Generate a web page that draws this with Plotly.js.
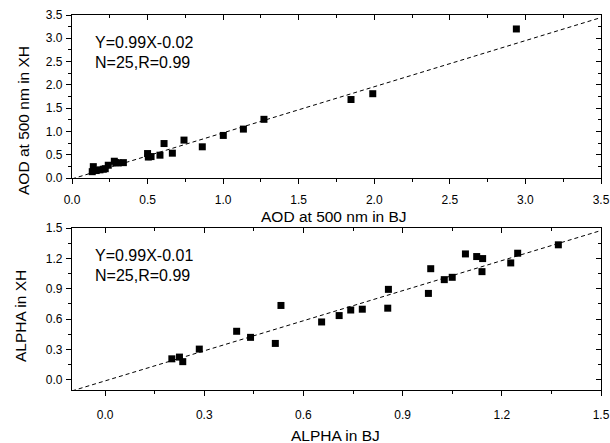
<!DOCTYPE html>
<html>
<head>
<meta charset="utf-8">
<script src="https://cdn.plot.ly/plotly-3.0.1.min.js"></script>
<style>html,body{margin:0;padding:0;background:#fff}#chart{width:610px;height:443px}</style>
</head>
<body>
<div id="chart"></div>
<script>
// Top panel: AOD at 500 nm
const aodBJ = [0.134, 0.141, 0.160, 0.185, 0.207, 0.220, 0.240, 0.280, 0.290, 0.306, 0.340, 0.500, 0.505, 0.523, 0.582, 0.609, 0.664, 0.741, 0.862, 1.001, 1.134, 1.270, 1.846, 1.990, 2.940];
const aodXH = [0.136, 0.244, 0.160, 0.175, 0.188, 0.200, 0.274, 0.360, 0.330, 0.324, 0.330, 0.525, 0.450, 0.460, 0.490, 0.740, 0.533, 0.814, 0.670, 0.914, 1.050, 1.260, 1.685, 1.810, 3.200];
const aodFit = {slope: 0.99, intercept: -0.02, xRange: [0, 3.5]};

// Bottom panel: ALPHA
const alphaBJ = [0.202, 0.225, 0.235, 0.285, 0.398, 0.440, 0.515, 0.532, 0.655, 0.708, 0.743, 0.778, 0.855, 0.857, 0.978, 0.985, 1.026, 1.050, 1.090, 1.124, 1.142, 1.140, 1.227, 1.248, 1.371];
const alphaXH = [0.208, 0.225, 0.180, 0.304, 0.480, 0.420, 0.360, 0.735, 0.572, 0.635, 0.690, 0.698, 0.708, 0.894, 0.854, 1.098, 0.990, 1.013, 1.244, 1.218, 1.198, 1.069, 1.155, 1.251, 1.334];
const alphaFit = {slope: 0.99, intercept: -0.01, xRange: [-0.1, 1.5]};

const topText = ["Y=0.99X-0.02", "N=25,R=0.99"];
const botText = ["Y=0.99X-0.01", "N=25,R=0.99"];
const titles = {topX: "AOD at 500 nm in BJ", topY: "AOD at 500 nm in XH", botX: "ALPHA in BJ", botY: "ALPHA in XH"};

const fitLine = f => ({x: f.xRange, y: f.xRange.map(v => f.slope * v + f.intercept)});

const F = "Liberation Sans, Arial, Helvetica, sans-serif";
const marker = {symbol: "square", size: 7, color: "#000"};
const dashLine = {color: "#000", width: 1, dash: "4px,3px"};

const l1 = fitLine(aodFit), l2 = fitLine(alphaFit);
const traces = [
  {x: l1.x, y: l1.y, mode: "lines", line: dashLine, xaxis: "x", yaxis: "y", hoverinfo: "skip"},
  {x: aodBJ, y: aodXH, mode: "markers", marker: marker, xaxis: "x", yaxis: "y"},
  {x: l2.x, y: l2.y, mode: "lines", line: dashLine, xaxis: "x2", yaxis: "y2", hoverinfo: "skip"},
  {x: alphaBJ, y: alphaXH, mode: "markers", marker: marker, xaxis: "x2", yaxis: "y2"},
  {x: [], y: [], xaxis: "x3", yaxis: "y3", mode: "markers"},
  {x: [], y: [], xaxis: "x4", yaxis: "y4", mode: "markers"}
];

const xd = [72/610, 601/610];
const yTop = [1 - 178/443, 1 - 15/443];
const yBot = [1 - 390/443, 1 - 228/443];

function ax(range, dtick, minor, domain, anchor, extra) {
  return Object.assign({
    range: range, dtick: dtick, tick0: 0, tickformat: ".1f", domain: domain, anchor: anchor,
    showgrid: false, zeroline: false, showline: true, linecolor: "#000", linewidth: 1.2,
    ticks: "outside", ticklen: 5, tickwidth: 1, tickcolor: "#000",
    minor: {dtick: minor, tick0: 0, ticks: "outside", ticklen: 3, tickwidth: 1, tickcolor: "#000", showgrid: false},
    tickfont: {family: F, size: 12, color: "#000"}, fixedrange: true
  }, extra || {});
}
function mirrorAx(range, dtick, minor, domain, anchor, overlay, side) {
  return {
    range: range, dtick: dtick, tick0: 0, domain: domain, anchor: anchor, overlaying: overlay, side: side,
    showgrid: false, zeroline: false, showline: true, linecolor: "#000", linewidth: 1.2,
    ticks: "inside", ticklen: 5, tickwidth: 1, tickcolor: "#000", showticklabels: false,
    minor: {dtick: minor, tick0: 0, ticks: "inside", ticklen: 3, tickwidth: 1, tickcolor: "#000", showgrid: false},
    fixedrange: true
  };
}

const ann = (text, x, y, size, extra) => Object.assign({text: text, x: x, y: y, xref: "paper", yref: "paper",
  showarrow: false, font: {family: F, size: size, color: "#000"}}, extra || {});

const layout = {
  width: 610, height: 443,
  margin: {l: 0, r: 0, t: 0, b: 0},
  paper_bgcolor: "#fff", plot_bgcolor: "#fff",
  showlegend: false,
  xaxis: ax([0, 3.5], 0.5, 0.25, xd, "y", {ticklabelstandoff: 5}),
  yaxis: ax([0, 3.5], 0.5, 0.25, yTop, "x", {ticklabelstandoff: 1}),
  xaxis2: ax([-0.1, 1.5], 0.3, 0.15, xd, "y2", {ticklabelstandoff: 8}),
  yaxis2: ax([-0.1, 1.5], 0.3, 0.15, yBot, "x2", {ticklabelstandoff: 1}),
  xaxis3: mirrorAx([0, 3.5], 0.5, 0.25, xd, "y3", "x", "top"),
  yaxis3: mirrorAx([0, 3.5], 0.5, 0.25, yTop, "x3", "y", "right"),
  xaxis4: mirrorAx([-0.1, 1.5], 0.3, 0.15, xd, "y4", "x2", "top"),
  yaxis4: mirrorAx([-0.1, 1.5], 0.3, 0.15, yBot, "x4", "y2", "right"),
  annotations: [
    ann(topText[0], 93/610, 1 - 42/443, 16, {xanchor: "left", yanchor: "middle"}),
    ann(topText[1], 93/610, 1 - 62/443, 16, {xanchor: "left", yanchor: "middle"}),
    ann(botText[0], 93/610, 1 - 255/443, 16, {xanchor: "left", yanchor: "middle"}),
    ann(botText[1], 93/610, 1 - 275/443, 16, {xanchor: "left", yanchor: "middle"}),
    ann(titles.topX, 334/610, 1 - 216/443, 15.5, {xanchor: "center", yanchor: "middle"}),
    ann(titles.botX, 335/610, 1 - 435/443, 15.5, {xanchor: "center", yanchor: "middle"}),
    ann(titles.topY, 24/610, 1 - 121/443, 15.5, {xanchor: "center", yanchor: "middle", textangle: -90}),
    ann(titles.botY, 20/610, 1 - 316/443, 15.5, {xanchor: "center", yanchor: "middle", textangle: -90})
  ]
};

Plotly.newPlot("chart", traces, layout, {staticPlot: true, displayModeBar: false});
</script>
</body>
</html>
